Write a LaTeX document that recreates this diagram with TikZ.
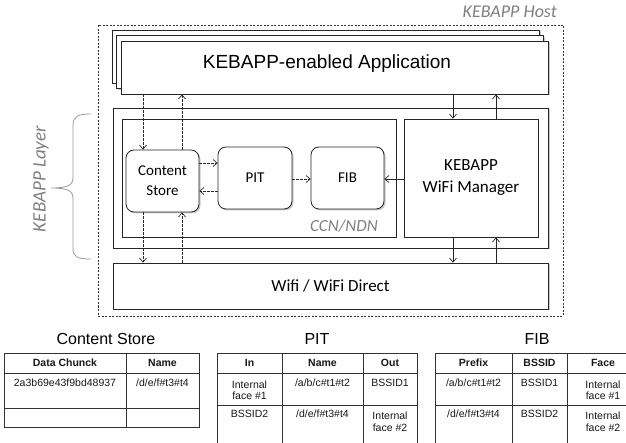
\documentclass[tikz,border=0pt]{standalone}
\usepackage{fontspec}
\setmainfont{Liberation Sans}
\newfontfamily\calfont{Carlito}
\usetikzlibrary{shadows,arrows.meta}
\tikzset{
  box/.style={draw=black!85, line width=0.8pt, inner sep=0pt, fill=white},
  rbox/.style={box, rounded corners=8pt},
  shad/.style={drop shadow={shadow xshift=1.5pt,shadow yshift=-1.5pt,opacity=0.35,fill=black!60}},
  hostbox/.style={draw=black!80, line width=0.8pt, dash pattern=on 2pt off 1.5pt, inner sep=0pt},
  labA/.style={font=\calfont\fontsize{15}{20}\selectfont, align=center},
  labB/.style={font=\calfont\fontsize{17}{22}\selectfont, align=center},
  gtext/.style={text=black!50, font=\calfont\itshape\fontsize{18}{20}\selectfont, inner sep=0pt},
  arr/.style={-{Straight Barb[length=4pt,width=7pt]}, line width=0.7pt, draw=black!85},
  darr/.style={arr, dash pattern=on 2.5pt off 1.5pt},
  tbl/.style={draw=black!80, line width=0.8pt},
  ttl/.style={font=\fontsize{16}{18}\selectfont, inner sep=0pt},
  cell/.style={font=\fontsize{10.5}{11.5}\selectfont, align=center, inner sep=0pt, text=black!90},
  head/.style={cell, font=\bfseries\fontsize{10.5}{11.5}\selectfont}
}
\begin{document}
\begin{tikzpicture}[x=1pt,y=-1pt]
\useasboundingbox (0,0) rectangle (626,443);
\clip (0,0) rectangle (626,443);
\fill[white] (0,0) rectangle (626,443);

% host
\node[hostbox, minimum width=465pt, minimum height=291pt] (host) at (330.5,170.5) {};
\node[gtext, anchor=east] (hostlbl) at (557,12) {KEBAPP Host};

% application stack
\node[box,shad, minimum width=427pt, minimum height=53pt] (app3) at (325.5,56.5) {};
\node[box,shad, minimum width=427pt, minimum height=53pt] (app2) at (330,62) {};
\node[box,shad, minimum width=427pt, minimum height=53pt] (app) at (334.5,67.5) {};
\node[font=\fontsize{19}{22}\selectfont, inner sep=0pt] (apptxt) at (327,64) {KEBAPP-enabled Application};

% layer
\node[box,shad, minimum width=435pt, minimum height=140pt] (layer) at (330.5,178) {};
\node[box, minimum width=274pt, minimum height=118pt] (ccn) at (259,178) {};
\node[box, minimum width=134pt, minimum height=118pt, labB] (wm) at (471,178) {KEBAPP\\WiFi Manager};
\node[rbox,shad, minimum width=73pt, minimum height=62pt, labA] (cs) at (162.5,181) {Content\\Store};
\node[rbox,shad, minimum width=74pt, minimum height=62pt, labA] (pit) at (255,178) {PIT};
\node[rbox,shad, minimum width=73pt, minimum height=62pt, labA] (fib) at (347.5,178) {FIB};
\node[gtext, font=\calfont\itshape\fontsize{17}{20}\selectfont, anchor=east] (ccnlbl) at (378,226) {CCN/NDN};

% wifi
\node[box,shad, minimum width=435pt, minimum height=46pt, labB] (wifi) at (330.5,286) {Wifi / WiFi Direct};

% connectors
\coordinate (xa) at (143,0);
\coordinate (xb) at (182,0);
\coordinate (xc) at (453,0);
\coordinate (xd) at (496,0);
\coordinate (ya) at (0,163);
\coordinate (yb) at (0,191);
\coordinate (yc) at (0,179);
\draw[darr] (app.south -| xa) -- (cs.north -| xa);
\draw[darr] (cs.north -| xb) -- (app.south -| xb);
\draw[arr] (app.south -| xc) -- (wm.north -| xc);
\draw[arr] (wm.north -| xd) -- (app.south -| xd);
\draw[darr] (cs.south -| xa) -- (wifi.north -| xa);
\draw[darr] (wifi.north -| xb) -- (cs.south -| xb);
\draw[arr] (wm.south -| xc) -- (wifi.north -| xc);
\draw[arr] (wifi.north -| xd) -- (wm.south -| xd);
\draw[darr] (cs.east |- ya) -- (pit.west |- ya);
\draw[darr] (pit.west |- yb) -- (cs.east |- yb);
\draw[darr] (pit.east |- yc) -- (fib.west |- yc);
\draw[arr] (wm.west |- yc) -- (fib.east |- yc);

% brace and layer label
\draw[black!40, line width=0.8pt] (91,114) .. controls (78,114) and (73,116) .. (73,126) -- (73,178) .. controls (73,185) and (68,188) .. (51,188) .. controls (68,188) and (73,191) .. (73,198) -- (73,249) .. controls (73,257) and (78,259) .. (91,259);
\node[gtext, font=\calfont\itshape\fontsize{19}{20}\selectfont, rotate=90] (layerlbl) at (41,179) {KEBAPP Layer};

% Content Store table
\node[ttl] (cst) at (106,339) {Content Store};
\draw[tbl] (4,353) rectangle (199,427);
\draw[tbl] (4,373) -- (199,373);
\draw[tbl] (4,408) -- (199,408);
\draw[tbl] (126,353) -- (126,427);
\node[head] (csh1) at (65,363) {Data Chunck};
\node[head] (csh2) at (162.5,363) {Name};
\node[cell] (csc1) at (65,383) {2a3b69e43f9bd48937};
\node[cell] (csc2) at (162.5,383) {/d/e/f\#t3\#t4};

% PIT table
\node[ttl] (pitt) at (317,339) {PIT};
\draw[tbl] (217,450) -- (217,353) -- (417,353) -- (417,450);
\draw[tbl] (217,373) -- (417,373);
\draw[tbl] (217,405) -- (417,405);
\draw[tbl] (282,353) -- (282,450);
\draw[tbl] (363,353) -- (363,450);
\node[head] (pith1) at (249.5,363) {In};
\node[head] (pith2) at (322.5,363) {Name};
\node[head] (pith3) at (390,363) {Out};
\node[cell] (pitc11) at (249.5,390) {Internal\\face \#1};
\node[cell] (pitc12) at (322.5,383) {/a/b/c\#t1\#t2};
\node[cell] (pitc13) at (390,383) {BSSID1};
\node[cell] (pitc21) at (249.5,414) {BSSID2};
\node[cell] (pitc22) at (322.5,414) {/d/e/f\#t3\#t4};
\node[cell] (pitc23) at (390,421.5) {Internal\\face \#2};

% FIB table
\node[ttl] (fibt) at (537,339) {FIB};
\draw[tbl] (435,450) -- (435,353) -- (640,353);
\draw[tbl] (435,373) -- (640,373);
\draw[tbl] (435,405) -- (640,405);
\draw[tbl] (512,353) -- (512,450);
\draw[tbl] (567,353) -- (567,450);
\node[head] (fibh1) at (473.5,363) {Prefix};
\node[head] (fibh2) at (539.5,363) {BSSID};
\node[head] (fibh3) at (603,363) {Face};
\node[cell] (fibc11) at (473.5,383) {/a/b/c\#t1\#t2};
\node[cell] (fibc12) at (539.5,383) {BSSID1};
\node[cell] (fibc13) at (603,390) {Internal\\face \#1};
\node[cell] (fibc21) at (473.5,414) {/d/e/f\#t3\#t4};
\node[cell] (fibc22) at (539.5,414) {BSSID2};
\node[cell] (fibc23) at (603,421.5) {Internal\\face \#2};
\end{tikzpicture}
\end{document}
